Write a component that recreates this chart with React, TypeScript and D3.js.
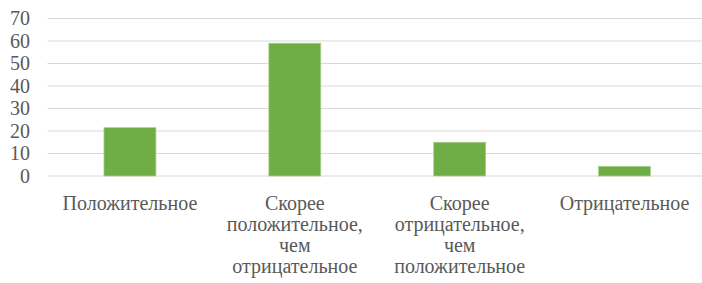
import { useMemo } from 'react';
import * as d3 from 'd3';

const WIDTH = 702;
const HEIGHT = 283;
const MARGIN = { top: 18.5, right: -5, bottom: 107, left: 47.5 };

const categories = [
    'Положительное',
    'Скорее положительное, чем отрицательное',
    'Скорее отрицательное, чем положительное',
    'Отрицательное',
];
const values = [21.5, 59, 15, 4.3];
const yTicks = [0, 10, 20, 30, 40, 50, 60, 70];

const FONT = '"Liberation Serif", "Times New Roman", serif';
const TEXT_COLOR = '#595959';
const FONT_SIZE = 20;

export default function App() {
    const boundsWidth = WIDTH - MARGIN.left - MARGIN.right;
    const boundsHeight = HEIGHT - MARGIN.top - MARGIN.bottom;

    const xScale = useMemo(
        () => d3.scaleBand<string>().domain(categories).range([0, boundsWidth]).paddingInner(0.685).paddingOuter(0.3425),
        [boundsWidth]
    );
    const yScale = useMemo(() => d3.scaleLinear().domain([0, 70]).range([boundsHeight, 0]), [boundsHeight]);

    return (
        <svg width={WIDTH} height={HEIGHT} style={{ position: 'absolute', left: 0, top: 0, background: '#fff' }}>
            <g transform={`translate(${MARGIN.left},${MARGIN.top})`}>
                {yTicks.map((t) => (
                    <g key={t}>
                        <line x1={0} x2={boundsWidth} y1={yScale(t)} y2={yScale(t)} stroke="#d9d9d9" strokeWidth={1} />
                        <text
                            x={-17.5}
                            y={yScale(t)}
                            dy="0.33em"
                            textAnchor="end"
                            fontFamily={FONT}
                            fontSize={FONT_SIZE}
                            fill={TEXT_COLOR}
                        >
                            {t}
                        </text>
                    </g>
                ))}
                {values.map((v, i) => (
                    <rect
                        key={i}
                        x={xScale(categories[i])!}
                        width={xScale.bandwidth()}
                        y={yScale(v)}
                        height={boundsHeight - yScale(v)}
                        fill="#70ad47"
                        stroke="#a9d08e"
                        strokeWidth={0.75}
                    />
                ))}
                {categories.map((c) => {
                    // one word per line, like the wrapped axis labels
                    const lines = c.split(' ');
                    const cx = xScale(c)! + xScale.bandwidth() / 2;
                    return (
                        <text key={c} textAnchor="middle" fontFamily={FONT} fontSize={FONT_SIZE} fill={TEXT_COLOR}>
                            {lines.map((l, j) => (
                                <tspan key={j} x={cx} y={boundsHeight + 33.5 + j * 21}>
                                    {l}
                                </tspan>
                            ))}
                        </text>
                    );
                })}
            </g>
        </svg>
    );
}
